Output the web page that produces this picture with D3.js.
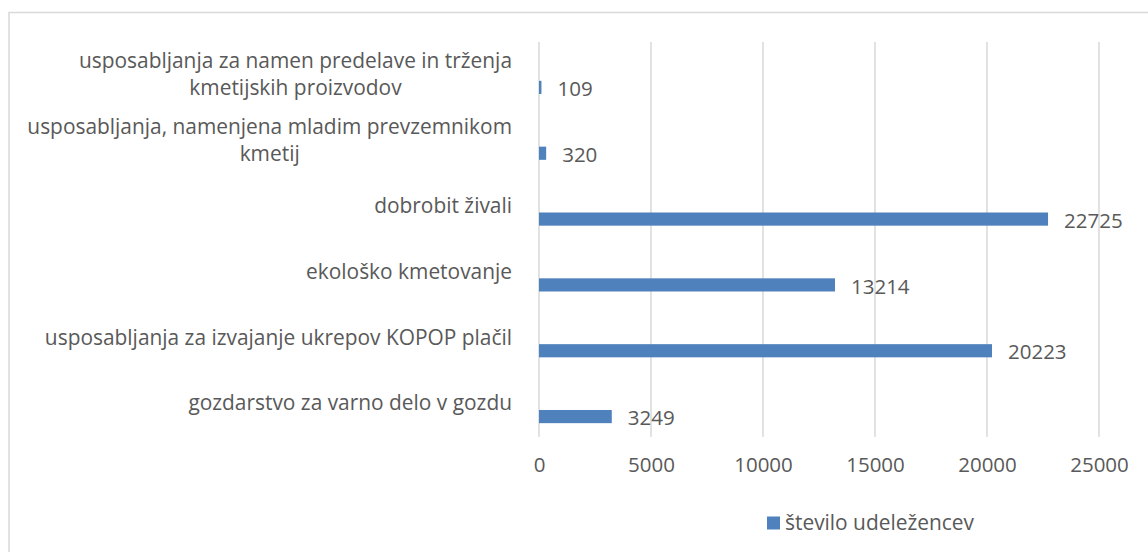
<!DOCTYPE html>
<html>
<head>
<meta charset="utf-8">
<script src="https://cdn.jsdelivr.net/npm/d3@7"></script>
<style>
  body { margin: 0; background: #fff; }
  svg text { font-family: "Open Sans", "Noto Sans", sans-serif; fill: #595959; }
</style>
</head>
<body>
<svg width="1148" height="552"></svg>
<script>
// -------------------- DATA --------------------
const categories = [
  "usposabljanja za namen predelave in trženja kmetijskih proizvodov",
  "usposabljanja, namenjena mladim prevzemnikom kmetij",
  "dobrobit živali",
  "ekološko kmetovanje",
  "usposabljanja za izvajanje ukrepov KOPOP plačil",
  "gozdarstvo za varno delo v gozdu"
];
const categoryLines = [
  ["usposabljanja za namen predelave in trženja", "kmetijskih proizvodov"],
  ["usposabljanja, namenjena mladim prevzemnikom", "kmetij"],
  ["dobrobit živali"],
  ["ekološko kmetovanje"],
  ["usposabljanja za izvajanje ukrepov KOPOP plačil"],
  ["gozdarstvo za varno delo v gozdu"]
];
const values = [109, 320, 22725, 13214, 20223, 3249];
const ticks = [0, 5000, 10000, 15000, 20000, 25000];
const seriesName = "število udeležencev";

// -------------------- SVG --------------------
const svg = d3.select("svg");
const color = "#4f81bd";
const fontSize = "20.5px";
const labelSize = "20.9px";

// chart border
svg.append("rect")
  .attr("x", 9).attr("y", 12.5)
  .attr("width", 1200).attr("height", 600)
  .attr("fill", "none")
  .attr("stroke", "#d9d9d9")
  .attr("stroke-width", 1.5);

// -------------------- SCALES --------------------
const x = d3.scaleLinear().domain([0, 25000]).range([539, 1099]);
const y = d3.scaleBand().domain(categories).range([41, 436]);
const bw = y.bandwidth();

// gridlines
svg.append("g")
  .selectAll("line")
  .data(ticks)
  .enter()
  .append("line")
  .attr("x1", d => x(d)).attr("x2", d => x(d))
  .attr("y1", 42).attr("y2", 437)
  .attr("stroke", "#d9d9d9")
  .attr("stroke-width", 1.5);

// axis labels
const axis = d3.axisBottom(x).tickValues(ticks).tickSize(0).tickPadding(0).tickFormat(d3.format("d"));
const axisG = svg.append("g").attr("transform", "translate(0,465)").call(axis);
axisG.select(".domain").remove();
axisG.selectAll("text")
  .attr("y", 0).attr("dy", "0.35em")
  .style("font-size", fontSize)
  .style("font-family", "\"Open Sans\", sans-serif")
  .attr("fill", "#595959");

// -------------------- BARS --------------------
svg.append("g")
  .selectAll("rect")
  .data(values)
  .enter()
  .append("rect")
  .attr("x", x(0))
  .attr("y", (d, i) => y(categories[i]) + bw * 0.605)
  .attr("width", d => x(d) - x(0))
  .attr("height", bw * 0.2)
  .attr("fill", color);

// value labels
svg.append("g")
  .selectAll("text")
  .data(values)
  .enter()
  .append("text")
  .attr("x", d => x(d) + 16)
  .attr("y", (d, i) => y(categories[i]) + bw * 0.705 + 1.5)
  .attr("dy", "0.35em")
  .style("font-size", fontSize)
  .text(d => d);

// category labels (block right-aligned, lines centered)
const catG = svg.append("g")
  .selectAll("text")
  .data(categoryLines)
  .enter()
  .append("text")
  .attr("text-anchor", "middle")
  .style("font-size", labelSize);

catG.each(function(lines, i) {
  const cy = y(categories[i]) + bw / 2;
  const lh = 27;
  const top = cy - (lines.length - 1) * lh / 2;
  const t = d3.select(this);
  t.selectAll("tspan")
    .data(lines)
    .enter()
    .append("tspan")
    .attr("x", 0)
    .attr("y", (l, j) => top + j * lh)
    .attr("dy", "0.35em")
    .text(l => l);
  const w = d3.max(t.selectAll("tspan").nodes(), n => n.getComputedTextLength());
  t.attr("transform", `translate(${512 - w / 2},0)`);
});

// -------------------- LEGEND --------------------
const legend = svg.append("g").attr("transform", "translate(767,523)");
legend.append("rect")
  .attr("x", 0).attr("y", -6.5)
  .attr("width", 13).attr("height", 13)
  .attr("fill", color);
legend.append("text")
  .attr("x", 18).attr("y", 0)
  .attr("dy", "0.35em")
  .style("font-size", labelSize)
  .text(seriesName);
</script>
</body>
</html>
